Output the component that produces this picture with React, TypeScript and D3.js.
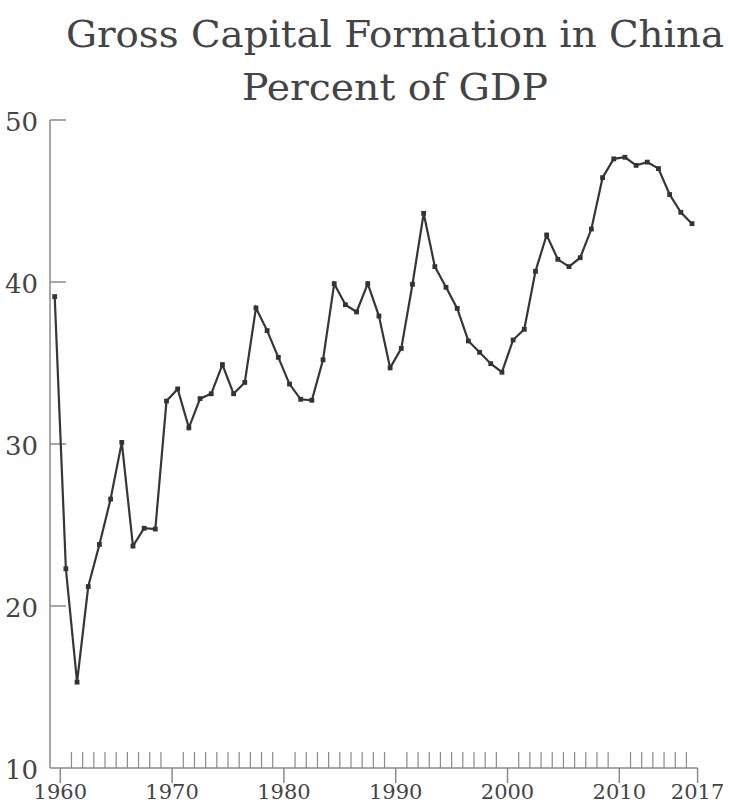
import React from "react";
import * as d3 from "d3";

const years: number[] = d3.range(1960, 2018);
const values: number[] = [
  39.1, 22.3, 15.3, 21.2, 23.8, 26.6, 30.1, 23.7, 24.8, 24.75,
  32.65, 33.4, 31.0, 32.8, 33.1, 34.9, 33.1, 33.8, 38.4, 37.0,
  35.35, 33.7, 32.76, 32.7, 35.2, 39.9, 38.6, 38.15, 39.9, 37.9,
  34.7, 35.9, 39.86, 44.24, 40.95, 39.67, 38.37, 36.36, 35.66, 34.96,
  34.43, 36.42, 37.08, 40.66, 42.9, 41.4, 40.95, 41.5, 43.27, 46.44,
  47.6, 47.7, 47.2, 47.4, 47.0, 45.4, 44.3, 43.6,
];
const yTicks: number[] = [10, 20, 30, 40, 50];
const xMajorTicks: number[] = [1960, 1970, 1980, 1990, 2000, 2010, 2017];
const titleLines: string[] = ["Gross Capital Formation in China", "Percent of GDP"];

const W = 729;
const H = 804;
const axisX = 50;
const axisY = 768;

export default function App() {
  const x = d3.scaleLinear().domain([1960, 2017]).range([54.7, 692]);
  const y = d3.scaleLinear().domain([10, 50]).range([768, 120]);
  const data = years.map((yr, i) => ({ yr, v: values[i] }));
  const line = d3
    .line<{ yr: number; v: number }>()
    .x((d) => x(d.yr))
    .y((d) => y(d.v));
  const minorTicks = d3.range(1961, 2017).filter((t) => t % 10 !== 0);
  const tickX = (t: number) => x(t + 0.5);
  const axisEnd = tickX(2017);
  const textColor = "#444";
  const axisColor = "#8a8a8a";
  const font = "'DejaVu Serif', serif";
  const titleLayout = [
    { y: 47, len: 658 },
    { y: 100, len: 306 },
  ];

  return (
    <svg
      width={W}
      height={H}
      style={{ position: "absolute", left: 0, top: 0, background: "#fff" }}
    >
      {titleLines.map((t, i) => (
        <text
          key={t}
          x={395}
          y={titleLayout[i].y}
          textAnchor="middle"
          fontFamily={font}
          fontSize={38}
          fill={textColor}
          textLength={titleLayout[i].len}
          lengthAdjust="spacingAndGlyphs"
        >
          {t}
        </text>
      ))}
      {/* y axis */}
      <line x1={axisX} x2={axisX} y1={y(50)} y2={axisY} stroke={axisColor} strokeWidth={1.5} />
      {yTicks.map((t) => (
        <g key={t}>
          {t !== 10 && (
            <line x1={axisX} x2={axisX + 16} y1={y(t)} y2={y(t)} stroke={axisColor} strokeWidth={1.5} />
          )}
          <text
            x={38}
            y={y(t) + 2}
            textAnchor="end"
            dominantBaseline="central"
            fontFamily={font}
            fontSize={26}
            fill={textColor}
          >
            {t}
          </text>
        </g>
      ))}
      {/* x axis */}
      <line x1={axisX} x2={axisEnd} y1={axisY} y2={axisY} stroke={axisColor} strokeWidth={1.5} />
      {minorTicks.map((t) => (
        <line
          key={t}
          x1={tickX(t)}
          x2={tickX(t)}
          y1={axisY - 16}
          y2={axisY}
          stroke={axisColor}
          strokeWidth={1.2}
        />
      ))}
      {xMajorTicks.map((t) => (
        <g key={t}>
          <line x1={tickX(t)} x2={tickX(t)} y1={axisY} y2={axisY + 15} stroke={axisColor} strokeWidth={1.5} />
          <text
            x={tickX(t)}
            y={799}
            textAnchor="middle"
            fontFamily={font}
            fontSize={21}
            fill={textColor}
          >
            {t}
          </text>
        </g>
      ))}
      {/* series */}
      <path d={line(data) || ""} fill="none" stroke="#363636" strokeWidth={2.2} />
      {data.map((d) => (
        <rect
          key={d.yr}
          x={x(d.yr) - 2.4}
          y={y(d.v) - 2.4}
          width={4.8}
          height={4.8}
          fill="#333"
        />
      ))}
    </svg>
  );
}
